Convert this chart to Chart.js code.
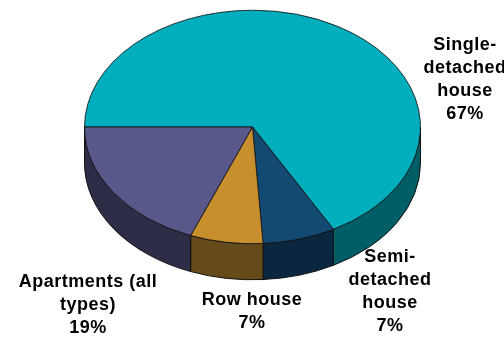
<!DOCTYPE html>
<html>
<head>
<meta charset="utf-8">
<script src="https://cdn.jsdelivr.net/npm/chart.js@4/dist/chart.umd.min.js"></script>
<style>
  html, body { margin: 0; padding: 0; background: #fff; }
  #wrap { width: 504px; height: 337px; position: relative; }
</style>
</head>
<body>
<div id="wrap"><canvas id="grafico"></canvas></div>
<script>
// dwelling types and their share (%)
const categorias = ['Single-detached house', 'Semi-detached house', 'Row house', 'Apartments (all types)'];
const porcentajes = [67, 7, 7, 19];
// how each label is broken into lines (last line is the percentage)
const lineasEtiqueta = [
  ['Single-', 'detached', 'house'],
  ['Semi-', 'detached', 'house'],
  ['Row house'],
  ['Apartments (all', 'types)']
];

const coloresTapa = ['#00AEBE', '#134A73', '#C78F2D', '#58588A'];
const coloresLado = ['#005E66', '#0B2740', '#654A1A', '#2D2D48'];

// 3D look: squash the pie vertically and extrude the front edge
const ALTO_Y = 127;      // centre of the top ellipse on screen
const ESCALA = 0.695;    // vertical squash
const PROFUNDIDAD = 36;  // thickness in screen px

function aplicarTransform(ctx, chart) {
  const arc = chart.getDatasetMeta(0).data[0];
  ctx.translate(0, ALTO_Y - arc.y * ESCALA);
  ctx.scale(1, ESCALA);
}

const pastel3d = {
  id: 'pastel3d',
  beforeDatasetsDraw(chart) {
    const ctx = chart.ctx;
    const meta = chart.getDatasetMeta(0);
    const d = PROFUNDIDAD / ESCALA;
    ctx.save();
    aplicarTransform(ctx, chart);
    meta.data.forEach((arc, i) => {
      const { x, y, startAngle, endAngle, outerRadius } = arc;
      const r = outerRadius;
      // only the front half (0..PI) of the rim is visible
      for (let k = -1; k <= 1; k++) {
        const a1 = Math.max(startAngle, 2 * Math.PI * k);
        const a2 = Math.min(endAngle, 2 * Math.PI * k + Math.PI);
        if (a2 <= a1) continue;
        ctx.beginPath();
        ctx.arc(x, y, r, a1, a2);
        ctx.lineTo(x + r * Math.cos(a2), y + d + r * Math.sin(a2));
        ctx.arc(x, y + d, r, a2, a1, true);
        ctx.closePath();
        ctx.save();
        ctx.setTransform(1, 0, 0, 1, 0, 0);
        ctx.fillStyle = coloresLado[i];
        ctx.fill();
        ctx.lineWidth = 1;
        ctx.strokeStyle = '#111';
        ctx.stroke();
        ctx.restore();
      }
    });
    ctx.restore();
    ctx.save();
    aplicarTransform(ctx, chart);
  },
  afterDatasetsDraw(chart) {
    chart.ctx.restore();
  },
  afterDraw(chart) {
    const ctx = chart.ctx;
    // text anchors: centre x and y of the first line
    const anclas = [[465, 45], [390, 257], [252, 300], [88, 282]];
    ctx.save();
    ctx.font = 'bold 18px "Liberation Sans", Arial, sans-serif';
    ctx.letterSpacing = '0.5px';
    ctx.fillStyle = '#000';
    ctx.textAlign = 'center';
    ctx.textBaseline = 'middle';
    lineasEtiqueta.forEach((lineas, i) => {
      const texto = lineas.concat([porcentajes[i] + '%']);
      texto.forEach((t, j) => {
        ctx.fillText(t, anclas[i][0], anclas[i][1] + j * 23);
      });
    });
    ctx.restore();
  }
};

new Chart(document.getElementById('grafico'), {
  type: 'pie',
  data: {
    labels: categorias,
    datasets: [{
      data: porcentajes,
      backgroundColor: coloresTapa,
      borderColor: '#111',
      borderWidth: 1
    }]
  },
  options: {
    responsive: true,
    maintainAspectRatio: false,
    animation: false,
    events: [],
    rotation: -90,
    layout: { padding: { left: 84, right: 83, top: 0, bottom: 0 } },
    plugins: {
      legend: { display: false },
      tooltip: { enabled: false }
    }
  },
  plugins: [pastel3d]
});
</script>
</body>
</html>
